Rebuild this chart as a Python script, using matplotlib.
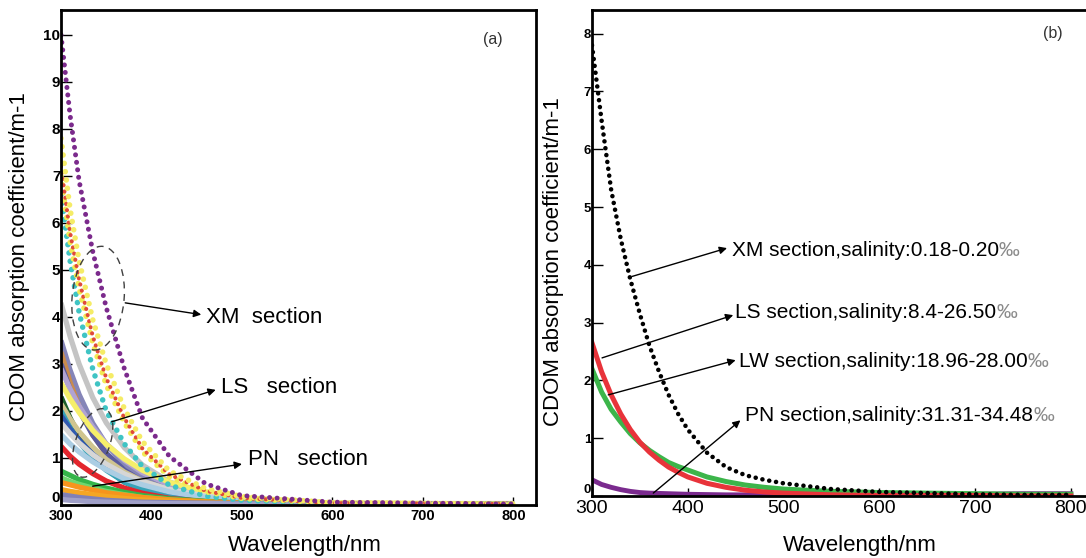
import matplotlib
matplotlib.use("Agg")
import matplotlib.pyplot as plt
from matplotlib.patches import Ellipse
import matplotlib.transforms as mtransforms

plt.rcParams['font.family'] = ['Liberation Sans', 'DejaVu Sans']

# ---------------- data: panel (a) ----------------
wl_a = [300, 310, 320, 335, 350, 370, 390, 420, 460, 500, 600, 800]

# XM section (dotted curves)
xm_purple = [10.0, 8.3, 6.9, 5.4, 4.2, 2.9, 1.85, 1.03, 0.45, 0.20, 0.06, 0.02]
xm_yellow1 = [7.8, 6.3, 5.2, 3.95, 3.0, 2.05, 1.35, 0.72, 0.35, 0.18, 0.05, 0.02]
xm_yellow2 = [7.0, 5.6, 4.6, 3.45, 2.55, 1.75, 1.13, 0.60, 0.28, 0.14, 0.04, 0.02]
xm_red = [7.2, 5.8, 4.8, 3.6, 2.7, 1.85, 1.2, 0.65, 0.30, 0.15, 0.04, 0.02]
xm_cyan = [6.6, 5.2, 4.1, 2.9, 2.0, 1.3, 0.82, 0.42, 0.19, 0.10, 0.03, 0.02]

# LS / PN sections (solid curves)
a_silver = [4.3, 3.59, 3.0, 2.29, 1.75, 1.22, 0.85, 0.49, 0.24, 0.12, 0.04, 0.02]
a_slate = [3.5, 2.87, 2.35, 1.74, 1.29, 0.86, 0.58, 0.32, 0.14, 0.06, 0.02, 0.01]
a_brown = [3.25, 2.61, 2.09, 1.5, 1.08, 0.70, 0.45, 0.23, 0.10, 0.04, 0.01, 0.01]
a_darkslate = [3.0, 2.46, 2.01, 1.49, 1.10, 0.74, 0.50, 0.27, 0.12, 0.05, 0.01, 0.01]
a_lavender = [2.9, 2.47, 2.1, 1.66, 1.30, 0.95, 0.69, 0.43, 0.22, 0.12, 0.03, 0.01]
a_yellow = [2.6, 2.26, 1.97, 1.59, 1.29, 0.98, 0.74, 0.48, 0.28, 0.16, 0.04, 0.02]
a_darkgreen = [2.3, 1.85, 1.48, 1.06, 0.77, 0.49, 0.32, 0.16, 0.07, 0.03, 0.01, 0.01]
a_khaki = [2.15, 1.83, 1.56, 1.23, 0.97, 0.70, 0.51, 0.32, 0.17, 0.09, 0.02, 0.01]
a_teal = [2.0, 1.64, 1.34, 0.99, 0.74, 0.49, 0.33, 0.18, 0.08, 0.04, 0.01, 0.01]
a_blue = [1.9, 1.62, 1.38, 1.08, 0.85, 0.62, 0.45, 0.28, 0.15, 0.08, 0.02, 0.01]
a_lightgray = [1.75, 1.52, 1.32, 1.07, 0.87, 0.66, 0.50, 0.33, 0.19, 0.11, 0.03, 0.01]
a_lightblue = [1.5, 1.3, 1.13, 0.92, 0.75, 0.56, 0.43, 0.28, 0.16, 0.09, 0.02, 0.01]
a_red = [1.25, 1.04, 0.87, 0.67, 0.51, 0.36, 0.25, 0.14, 0.07, 0.03, 0.01, 0.01]
a_green = [0.72, 0.63, 0.54, 0.44, 0.36, 0.27, 0.20, 0.13, 0.08, 0.04, 0.01, 0.01]
a_lightgreen = [0.58, 0.50, 0.44, 0.36, 0.29, 0.22, 0.16, 0.11, 0.06, 0.035, 0.01, 0.01]
a_orange = [0.48, 0.43, 0.38, 0.32, 0.26, 0.21, 0.16, 0.11, 0.07, 0.04, 0.03, 0.03]
a_orange2 = [0.33, 0.29, 0.26, 0.22, 0.18, 0.14, 0.11, 0.08, 0.05, 0.03, 0.02, 0.02]
a_slatesmall = [0.22, 0.19, 0.16, 0.13, 0.10, 0.08, 0.06, 0.05, 0.04, 0.03, 0.02, 0.02]
a_graysmall = [0.12, 0.10, 0.09, 0.07, 0.06, 0.05, 0.04, 0.03, 0.03, 0.02, 0.02, 0.01]

# ---------------- data: panel (b) ----------------
wl_b = [300, 310, 320, 330, 340, 350, 360, 370, 380, 390, 400, 420, 440, 460,
        480, 500, 550, 600, 650, 700, 750, 800]
b_xm = [7.8, 6.5, 5.3, 4.45, 3.75, 3.15, 2.6, 2.15, 1.75, 1.42, 1.15, 0.75, 0.5,
        0.36, 0.28, 0.22, 0.12, 0.07, 0.05, 0.03, 0.02, 0.02]
b_ls = [2.65, 2.15, 1.75, 1.42, 1.15, 0.93, 0.76, 0.62, 0.5, 0.41, 0.33, 0.22,
        0.15, 0.1, 0.07, 0.05, 0.02, 0.01, 0.01, 0.01, 0.0, 0.0]
b_lw = [2.2, 1.8, 1.5, 1.28, 1.08, 0.92, 0.79, 0.68, 0.58, 0.51, 0.45, 0.33, 0.25,
        0.19, 0.15, 0.12, 0.08, 0.06, 0.05, 0.04, 0.03, 0.03]
b_pn = [0.28, 0.2, 0.15, 0.11, 0.08, 0.06, 0.05, 0.045, 0.04, 0.035, 0.03, 0.025,
        0.02, 0.02, 0.02, 0.02, 0.02, 0.02, 0.02, 0.03, 0.04, 0.04]

labels_b = ["XM section,salinity:0.18-0.20", "LS section,salinity:8.4-26.50",
            "LW section,salinity:18.96-28.00", "PN section,salinity:31.31-34.48"]
labels_a = ["XM  section", "LS   section", "PN   section"]

# ---------------- figure ----------------
W, H = 1086, 558
fig = plt.figure(figsize=(W / 100, H / 100), dpi=100)

def px_axes(x0, x1, y0, y1):
    return fig.add_axes([x0 / W, 1 - y1 / H, (x1 - x0) / W, (y1 - y0) / H])

axa = px_axes(61, 536, 10, 505)
axb = px_axes(592, 1089, 10, 496)

solid_curves = [
    (a_silver, '#c4c4c4'), (a_slate, '#8585b8'), (a_brown, '#c98b4e'),
    (a_darkslate, '#5a5a9e'), (a_lavender, '#b1a3d3'), (a_yellow, '#f6ef6a'),
    (a_darkgreen, '#1c5e2a'), (a_khaki, '#cfc48f'), (a_teal, '#36a3b8'),
    (a_blue, '#3159b0'), (a_lightgray, '#d6d6d6'), (a_lightblue, '#abcde3'),
    (a_red, '#e3262d'), (a_green, '#35b54a'), (a_lightgreen, '#6fd66f'),
    (a_orange, '#f7941d'), (a_orange2, '#f5a623'), (a_slatesmall, '#8080b5'),
    (a_graysmall, '#a0a0c8'),
]
for vals, c in solid_curves:
    axa.plot(wl_a, vals, color=c, lw=3.8, solid_capstyle='butt')

dotted_curves = [
    (xm_cyan, '#3fc4c4', 4.0), (xm_yellow2, '#f2ea55', 4.0),
    (xm_red, '#e0493a', 3.0), (xm_yellow1, '#f5ec66', 4.0),
    (xm_purple, '#7b2a8c', 3.6),
]
for vals, c, lw in dotted_curves:
    axa.plot(wl_a, vals, color=c, lw=lw, linestyle=(0, (0.01, 1.5)),
             dash_capstyle='round')

axa.set_xlim(300, 825)
axa.set_ylim(0, 10.53)
axa.set_xticks([300, 400, 500, 600, 700, 800])
axa.set_yticks(range(0, 11))
axa.tick_params(axis='y', direction='in', length=8, width=1, pad=0.5,
                labelsize=11)
axa.tick_params(axis='x', direction='in', length=6, width=1, pad=3,
                labelsize=10.5)
for lab in axa.get_xticklabels() + axa.get_yticklabels():
    lab.set_fontweight('bold')

# ellipses in panel a (pixel-sized, anchored in data)
def data_ellipse(ax, cx, cy, w_in, h_in, ang):
    tr = fig.dpi_scale_trans + mtransforms.ScaledTranslation(cx, cy, ax.transData)
    e = Ellipse((0, 0), w_in, h_in, angle=ang, transform=tr, fill=False,
                edgecolor='#404040', lw=1.0, linestyle=(0, (5, 4)), zorder=5)
    ax.add_patch(e)

data_ellipse(axa, 341, 4.4, 0.52, 1.04, -5)
data_ellipse(axa, 335, 1.32, 0.34, 0.72, -20)

arr = dict(arrowstyle='-|>', color='black', lw=1.0, shrinkA=0, shrinkB=0,
           mutation_scale=11)
axa.annotate('', xy=(455, 4.05), xytext=(371, 4.3), arrowprops=arr, zorder=6)
axa.annotate('', xy=(471, 2.45), xytext=(356, 1.77), arrowprops=arr, zorder=6)
axa.annotate('', xy=(500, 0.87), xytext=(335, 0.40), arrowprops=arr, zorder=6)
axa.text(460, 3.98, labels_a[0], fontsize=16, va='center', ha='left')
axa.text(477, 2.5, labels_a[1], fontsize=16, va='center', ha='left')
axa.text(507, 0.96, labels_a[2], fontsize=16, va='center', ha='left')
axa.text(777, 9.9, '(a)', fontsize=11.5, color='#333333', ha='center',
         va='center')

# ---------------- panel b ----------------
axb.plot(wl_b, b_pn, color='#7a2a8e', lw=3.5)
axb.plot(wl_b, b_lw, color='#3cb54a', lw=3.6)
axb.plot(wl_b, b_ls, color='#e8333a', lw=3.6)
axb.plot(wl_b, b_xm, color='black', lw=3.3, linestyle=(0, (0.01, 1.5)),
         dash_capstyle='round')

axb.set_xlim(300, 819)
axb.set_ylim(0, 8.41)
axb.set_xticks([300, 400, 500, 600, 700, 800])
axb.set_yticks(range(0, 9))
axb.tick_params(axis='y', direction='in', length=8, width=1, pad=0.5,
                labelsize=9.5)
axb.tick_params(axis='x', direction='in', length=6, width=1, pad=3,
                labelsize=14)
for lab in axb.get_yticklabels():
    lab.set_fontweight('bold')

# the "0" labels sit just above the bottom spine, as in the reference
for ax in (axa, axb):
    ax.get_yticklabels()[0].set_va('bottom')

ann_b = [
    ((342, 3.8), (441, 4.29), (446, 4.24)),
    ((310.5, 2.39), (447.5, 3.13), (449.5, 3.18)),
    ((317, 1.75), (450, 2.35), (453, 2.32)),
    ((364, 0.05), (455, 1.31), (460, 1.40)),
]
for (start, head, tpos), lab in zip(ann_b, labels_b):
    axb.annotate('', xy=head, xytext=start, arrowprops=arr, zorder=6)
    t = axb.text(tpos[0], tpos[1], lab, fontsize=15, va='center', ha='left')
    axb.annotate('\u2030', xy=(1, 0), xycoords=t, va='bottom', ha='left',
                 fontsize=15, color='#8a8a8a')
axb.text(781, 8.0, '(b)', fontsize=11.5, color='#333333', ha='center',
         va='center')

for ax in (axa, axb):
    for s in ax.spines.values():
        s.set_linewidth(2.0)

# axis labels
fig.text(305 / W, 1 - 546 / H, 'Wavelength/nm', fontsize=16, ha='center',
         va='center')
fig.text(860 / W, 1 - 546 / H, 'Wavelength/nm', fontsize=16, ha='center',
         va='center')
fig.text(20 / W, 1 - 257 / H, 'CDOM absorption coefficient/m-1', fontsize=16,
         rotation=90, ha='center', va='center')
fig.text(553 / W, 1 - 262 / H, 'CDOM absorption coefficient/m-1', fontsize=16,
         rotation=90, ha='center', va='center')

fig.savefig('out.png', dpi=100)
